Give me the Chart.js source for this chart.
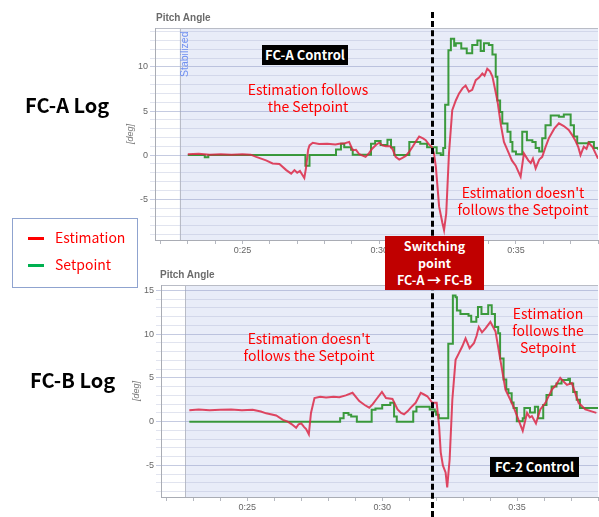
<!DOCTYPE html>
<html>
<head>
<meta charset="utf-8">
<script src="https://cdn.jsdelivr.net/npm/chart.js@4.4.1/dist/chart.umd.min.js"></script>
<style>
  body { margin: 0; background: #fff; }
  #page { position: relative; width: 599px; height: 517px; overflow: hidden; background: #fff;
          font-family: "Noto Sans CJK KR", "Noto Sans", sans-serif; }
  .box { position: absolute; }
  .note { position: absolute; color: #ff0000; font-size: 14px; line-height: 17px; text-align: center; white-space: nowrap; }
  .tag { position: absolute; color: #fff; font-weight: bold; font-size: 13px; text-align: center; white-space: nowrap; }
  .ptitle { position: absolute; color: #6b6b6b; font: bold 10px "Liberation Sans", Arial, sans-serif; }
  .log { position: absolute; font-weight: bold; font-size: 20px; color: #000; white-space: nowrap; }
</style>
</head>
<body>
<div id="page">
  <div class="box" style="left:100px;top:0;width:499px;height:260px"><canvas id="chartA" width="499" height="260"></canvas></div>
  <div class="box" style="left:106px;top:257px;width:493px;height:260px"><canvas id="chartB" width="493" height="260"></canvas></div>

  <div class="ptitle" style="left:156px;top:12px">Pitch Angle</div>
  <div class="ptitle" style="left:160px;top:269px">Pitch Angle</div>
  <div style="position:absolute;left:179px;top:77px;transform:rotate(-90deg);transform-origin:0 0;color:#6f8ff0;font:10.5px 'Liberation Sans',Arial,sans-serif;white-space:nowrap;line-height:11px;">Stabilized</div>

  <div id="switchLine" style="position:absolute;top:12px;height:505px;width:0;border-left:3px dashed #000;"></div>

  <div class="log" style="left:25px;top:90px">FC-A Log</div>
  <div class="log" style="left:30px;top:365px">FC-B Log</div>

  <div style="position:absolute;left:12px;top:218px;width:124px;height:68px;border:1px solid #8fa3cf;background:#fff;"></div>
  <div style="position:absolute;left:28px;top:237px;width:16px;height:3px;background:#ff0000;"></div>
  <div class="note" style="left:55px;top:229px;text-align:left">Estimation</div>
  <div style="position:absolute;left:28px;top:264px;width:16px;height:3px;background:#00b050;"></div>
  <div class="note" style="left:55px;top:256px;text-align:left">Setpoint</div>

  <div class="tag" style="left:262px;top:45px;width:86px;height:20px;line-height:20px;background:#000;">FC-A Control</div>
  <div class="note" style="left:238px;top:81px;width:140px">Estimation follows<br>the Setpoint</div>
  <div class="note" style="left:448px;top:184px;width:150px">Estimation doesn't<br>follows the Setpoint</div>

  <div class="tag" style="left:385px;top:236px;width:99px;height:53px;background:#c00000;font-size:12.5px;line-height:17px;padding-top:1px;">Switching<br>point<br>FC-A <span style="font-size:14px">&#8594;</span> FC-B</div>

  <div class="note" style="left:234px;top:330px;width:150px">Estimation doesn't<br>follows the Setpoint</div>
  <div class="note" style="left:498px;top:305px;width:100px">Estimation<br>follows the<br>Setpoint</div>
  <div class="tag" style="left:490px;top:457px;width:89px;height:20px;line-height:20px;background:#000;">FC-2 Control</div>
</div>

<script>
// time axis range (seconds) and the moment the controller switched
let timeMin = 21.8
let timeMax = 38.0
let stabilizedFrom = 22.7
let switchTime = 31.96
let timeTicks = [25, 30, 35]

// FC-A log : estimation (red)
let estATime = [23.0, 23.4, 23.8, 24.2, 24.6, 25.0, 25.3, 25.5, 25.86, 26.1, 26.35, 26.6, 26.78, 26.9, 27.0, 27.1, 27.26, 27.32, 27.4, 27.45,
  27.57, 27.8, 28.1, 28.4, 28.54, 28.75, 28.9, 29.03, 29.15, 29.27, 29.5, 29.62, 29.75, 29.9, 30.0, 30.12, 30.24, 30.4, 30.49, 30.6,
  30.73, 30.85, 30.97, 31.1, 31.22, 31.35, 31.46, 31.6, 31.7, 31.82, 31.92, 32.0, 32.07, 32.19, 32.31, 32.37, 32.45, 32.55, 32.67, 32.8,
  32.92, 33.05, 33.16, 33.28, 33.4, 33.53, 33.65, 33.77, 33.85, 33.95, 34.05, 34.14, 34.32, 34.45, 34.56, 34.74, 34.85, 34.99, 35.17, 35.29,
  35.45, 35.54, 35.62, 35.72, 35.85, 35.96, 36.08, 36.2, 36.4, 36.57, 36.75, 36.93, 37.05, 37.18, 37.28, 37.36, 37.48, 37.58, 37.66, 37.8, 37.91, 38.0]
let estAValue = [0.1, 0.15, 0.05, 0.1, 0.05, 0.1, 0.05, -0.2, -0.6, -0.95, -1.0, -1.7, -2.1, -1.7, -2.0, -1.8, -2.6, -1.5, 0.6, 1.1,
  1.4, 1.25, 1.3, 1.2, 1.3, 1.35, 1.5, 0.55, 0.6, 0.1, -0.2, 0.2, 0.75, 1.2, 1.4, 1.1, 1.0, 1.0, 0.65, -0.2,
  -0.5, -0.3, -0.1, 0.4, 0.95, 1.6, 2.1, 1.9, 1.7, 1.2, 0.95, 0.2, -1.3, -5.85, -7.7, -8.5, -6.6, 0.2, 5.1, 6.2,
  7.0, 7.6, 7.9, 7.2, 7.4, 8.5, 8.8, 9.25, 9.0, 9.8, 9.5, 8.9, 6.2, 3.4, 1.5, 0.2, -0.6, -1.2, -2.45, 0.2,
  -0.6, -0.9, -0.4, -1.5, -0.5, -0.2, 0.9, 1.9, 3.0, 3.6, 3.3, 2.85, 2.3, 1.6, 0.9, 0.0, 0.95, 0.7, 1.4, 0.9, 0.2, -0.4]

// FC-A log : setpoint (green), value holds until the next step
let setATime = [23.0, 23.62, 23.75, 27.3, 27.45, 28.42, 28.6, 28.72, 28.97, 29.03, 29.7, 29.85, 30.05, 30.3, 30.43, 30.55, 31.1, 31.5, 31.75,
  32.1, 32.25, 32.34, 32.41, 32.53, 32.62, 32.74, 32.8, 33.0, 33.2, 33.4, 33.59, 33.71, 33.83, 34.01, 34.14, 34.26, 34.32, 34.42, 34.5,
  34.69, 34.8, 34.87, 35.0, 35.23, 35.4, 35.6, 35.72, 35.85, 35.96, 36.08, 36.27, 36.57, 36.75, 37.0, 37.12, 37.24, 37.66, 37.85, 38.0]
let setAValue = [0, -0.25, 0, -1.2, 0, 0.65, 1.3, 0.9, 0.6, 0.05, 1.3, 1.6, 1.15, 1.75, 0.9, 0, 1.5, 1.3, 0.9,
  0.2, 0, 0.8, 5.7, 11.9, 13.2, 12.4, 12.7, 12.1, 11.55, 12.5, 13.0, 11.8, 12.7, 12.5, 11.4, 8.9, 6.2, 4.9, 3.6,
  2.65, 1.5, 0.4, 0.1, 2.65, 1.7, 1.5, 0.8, 0.4, 1.9, 3.4, 4.5, 4.35, 4.6, 3.4, 2.1, 1.35, 1.5, 0.8, 0.6]

// FC-B log : estimation (red)
let estBTime = [22.85, 23.2, 23.6, 24.0, 24.4, 24.8, 25.2, 25.5, 25.7, 26.07, 26.32, 26.5, 26.65, 26.81, 26.9, 27.0, 27.1, 27.18, 27.28, 27.36,
  27.49, 27.7, 27.92, 28.2, 28.41, 28.65, 28.9, 29.15, 29.35, 29.52, 29.65, 29.77, 29.99, 30.14, 30.38, 30.57, 30.7, 30.81, 30.95, 31.06,
  31.24, 31.43, 31.55, 31.67, 31.86, 32.02, 32.11, 32.17, 32.25, 32.35, 32.41, 32.5, 32.6, 32.72, 32.84, 32.97, 33.09, 33.24, 33.4, 33.5,
  33.58, 33.7, 33.83, 34.01, 34.2, 34.38, 34.57, 34.75, 34.88, 35.0, 35.21, 35.37, 35.47, 35.55, 35.7, 35.86, 36.05, 36.29, 36.45, 36.6,
  36.75, 36.85, 37.03, 37.28, 37.53, 37.94]
let estBValue = [1.3, 1.4, 1.3, 1.35, 1.4, 1.3, 1.35, 1.15, 0.95, 0.7, 0.2, 0.0, -0.3, -0.7, -0.3, -0.2, -0.6, -0.85, -1.45, 1.0,
  2.7, 2.85, 2.75, 2.85, 2.8, 3.0, 3.3, 2.35, 1.9, 1.6, 2.0, 2.5, 3.4, 2.7, 2.6, 1.4, 1.0, 0.85, 1.2, 1.6,
  2.15, 3.3, 3.1, 2.9, 2.15, 2.15, -0.5, -3.5, -5.0, -5.8, -7.5, -4.3, 2.5, 7.06, 7.8, 8.6, 9.5, 8.4, 8.95, 9.8,
  10.8, 10.2, 10.65, 11.4, 10.3, 7.06, 3.66, 2.5, 1.6, 0.64, -1.05, 1.0, 0.5, 0.64, -0.2, 1.4, 2.15, 3.66, 4.2, 5.0,
  4.5, 4.2, 4.4, 2.15, 1.4, 1.0]

// FC-B log : setpoint (green)
let setBTime = [22.85, 28.44, 28.57, 28.75, 28.85, 29.06, 29.61, 29.75, 30.0, 30.3, 30.44, 30.54, 31.15, 31.27, 31.76, 31.95, 32.0, 32.1,
  32.45, 32.62, 32.72, 32.77, 32.9, 33.2, 33.3, 33.49, 33.55, 33.68, 33.93, 34.06, 34.18, 34.3, 34.37, 34.5, 34.6, 34.68, 34.8, 34.87,
  34.99, 35.21, 35.27, 35.48, 35.66, 35.78, 35.97, 36.09, 36.28, 36.46, 36.65, 36.9, 36.96, 37.08, 37.21, 37.33, 38.0]
let setBValue = [0, 0.4, 1.0, 0.8, 0.6, 0, 1.35, 1.5, 1.9, 2.15, 0.6, 0, 1.15, 1.7, 1.4, 1.15, 0.8, 0.4,
  8.9, 14.4, 14.2, 12.7, 12.3, 12.1, 11.4, 11.95, 13.1, 12.3, 13.3, 12.3, 10.8, 10.1, 7.2, 4.8, 3.7, 3.25, 2.2, 1.55,
  0.05, 0.4, 1.55, 1.05, 1.7, 0.4, 1.9, 3.05, 4.0, 4.35, 4.75, 4.9, 4.35, 3.4, 2.5, 1.55, 1.55]

let estColor = 'rgba(220, 40, 70, 0.85)'
let setColor = 'rgba(40, 145, 40, 0.9)'

function toPoints(times, values) {
  return times.map((t, i) => ({ x: t, y: values[i] }))
}

// shade the "Stabilized" flight mode region and outline the plot
let backdrop = {
  id: 'backdrop',
  beforeDraw(chart) {
    let { ctx, chartArea, scales } = chart
    let x0 = scales.x.getPixelForValue(stabilizedFrom)
    ctx.save()
    ctx.fillStyle = '#e8ecf8'
    ctx.fillRect(x0, chartArea.top, chartArea.right - x0, chartArea.bottom - chartArea.top)
    ctx.strokeStyle = '#b9bcc6'
    ctx.lineWidth = 1
    ctx.beginPath()
    ctx.moveTo(Math.round(x0) + 0.5, chartArea.top)
    ctx.lineTo(Math.round(x0) + 0.5, chartArea.bottom)
    ctx.moveTo(chartArea.left, chartArea.top + 0.5)
    ctx.lineTo(chartArea.right, chartArea.top + 0.5)
    ctx.stroke()
    ctx.restore()
  }
}

function makeChart(canvasId, est, set, yMin, yMax) {
  return new Chart(document.getElementById(canvasId), {
    type: 'line',
    data: {
      datasets: [
        { label: 'Estimation', data: est, borderColor: estColor, borderWidth: 2, pointRadius: 0, tension: 0 },
        { label: 'Setpoint', data: set, borderColor: setColor, borderWidth: 2, pointRadius: 0, stepped: true }
      ]
    },
    options: {
      responsive: false,
      animation: false,
      devicePixelRatio: 1,
      layout: { padding: { top: 28, right: 0, bottom: 0, left: 0 } },
      plugins: { legend: { display: false }, tooltip: { enabled: false } },
      scales: {
        x: {
          type: 'linear', min: timeMin, max: timeMax,
          afterFit(scale) { scale.height = 20 },
          border: { color: '#a9acb4' },
          grid: { drawOnChartArea: false, tickLength: 4, color: '#b5b8c0' },
          ticks: {
            stepSize: 1, includeBounds: false, autoSkip: false, maxRotation: 0, padding: 1,
            color: '#666', font: { size: 9, family: 'Liberation Sans' },
            callback: (v) => timeTicks.includes(v) ? '0:' + v : ''
          }
        },
        y: {
          min: yMin, max: yMax,
          afterFit(scale) { scale.width = 55 },
          border: { color: '#a9acb4' },
          title: { display: true, text: '[deg]', color: '#777', padding: { top: 25, bottom: 0 },
                   font: { size: 9, style: 'italic', family: 'Liberation Sans' } },
          grid: {
            tickLength: 5,
            color: (c) => c.tick && Math.abs(c.tick.value % 5) < 1e-6 ? 'rgba(150,160,200,0.55)' : 'rgba(170,178,210,0.35)'
          },
          ticks: {
            stepSize: 1, includeBounds: false, autoSkip: false, padding: 2,
            color: '#666', font: { size: 9, family: 'Liberation Sans' },
            callback: (v) => v % 5 === 0 ? String(v) : ''
          }
        }
      }
    },
    plugins: [backdrop]
  })
}

let chartA = makeChart('chartA', toPoints(estATime, estAValue), toPoints(setATime, setAValue), -9.63, 14.42)
let chartB = makeChart('chartB', toPoints(estBTime, estBValue), toPoints(setBTime, setBValue), -8.6, 15.6)

// place the dashed switching marker from the time scale of the upper chart
let switchX = 100 + chartA.scales.x.getPixelForValue(switchTime)
document.getElementById('switchLine').style.left = (switchX - 1.5) + 'px'
</script>
</body>
</html>
